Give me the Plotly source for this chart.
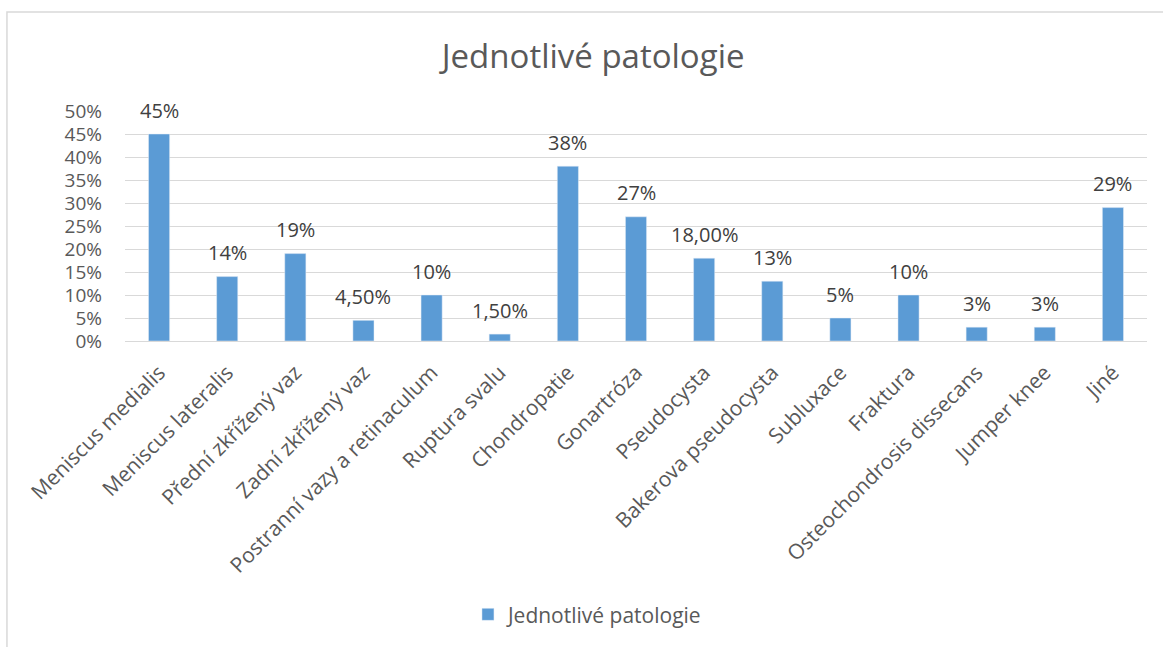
import plotly.graph_objects as go

categories = ["Meniscus medialis", "Meniscus lateralis", "Přední zkřížený vaz",
              "Zadní zkřížený vaz", "Postranní vazy a retinaculum", "Ruptura svalu",
              "Chondropatie", "Gonartróza", "Pseudocysta", "Bakerova pseudocysta",
              "Subluxace", "Fraktura", "Osteochondrosis dissecans", "Jumper knee", "Jiné"]
values = [0.45, 0.14, 0.19, 0.045, 0.10, 0.015, 0.38, 0.27, 0.18, 0.13,
          0.05, 0.10, 0.03, 0.03, 0.29]
labels = ["45%", "14%", "19%", "4,50%", "10%", "1,50%", "38%", "27%", "18,00%", "13%",
          "5%", "10%", "3%", "3%", "29%"]
y_ticks = [0, 0.05, 0.10, 0.15, 0.20, 0.25, 0.30, 0.35, 0.40, 0.45, 0.50]
y_ticktext = ["0%", "5%", "10%", "15%", "20%", "25%", "30%", "35%", "40%", "45%", "50%"]

FONT = "Open Sans"
GREY = "#595959"

fig = go.Figure()
fig.add_trace(go.Bar(
    x=categories, y=values, name="Jednotlivé patologie",
    marker=dict(color="#5B9BD5"),
))

annotations = [
    dict(x=c, y=v, text=t, xref="x", yref="y", showarrow=False,
         yanchor="middle", yshift=24,
         font=dict(family=FONT, size=20, color="#404040"))
    for c, v, t in zip(categories, values, labels)
]

fig.update_layout(
    width=1163, height=647,
    margin=dict(l=125, r=16, t=111, b=306),
    paper_bgcolor="white", plot_bgcolor="white",
    bargap=0.69,
    title=dict(text="Jednotlivé patologie", x=0.51, xanchor="center", y=0.912, yanchor="middle",
               font=dict(family=FONT, size=33, color=GREY)),
    font=dict(family=FONT, color=GREY),
    showlegend=True,
    legend=dict(orientation="h", x=0.453, xanchor="center", y=-1.19, yanchor="middle",
                font=dict(family=FONT, size=21, color=GREY)),
    xaxis=dict(tickangle=-45, tickfont=dict(family=FONT, size=21, color=GREY),
               showline=True, linecolor="#D9D9D9", linewidth=1, ticks="",
               ticklabelstandoff=10),
    yaxis=dict(range=[0, 0.5], tickvals=y_ticks, ticktext=y_ticktext,
               tickfont=dict(family=FONT, size=19, color=GREY),
               showgrid=True, gridcolor="#D9D9D9", gridwidth=1, zeroline=False,
               ticks="", ticklabelstandoff=22),
    annotations=annotations,
    shapes=[dict(type="rect", xref="paper", yref="paper",
                 x0=-0.1155, x1=1.03, y0=-1.5, y1=1.43,
                 line=dict(color="#D9D9D9", width=1.5), layer="below")],
)

fig.write_html("out.html")
